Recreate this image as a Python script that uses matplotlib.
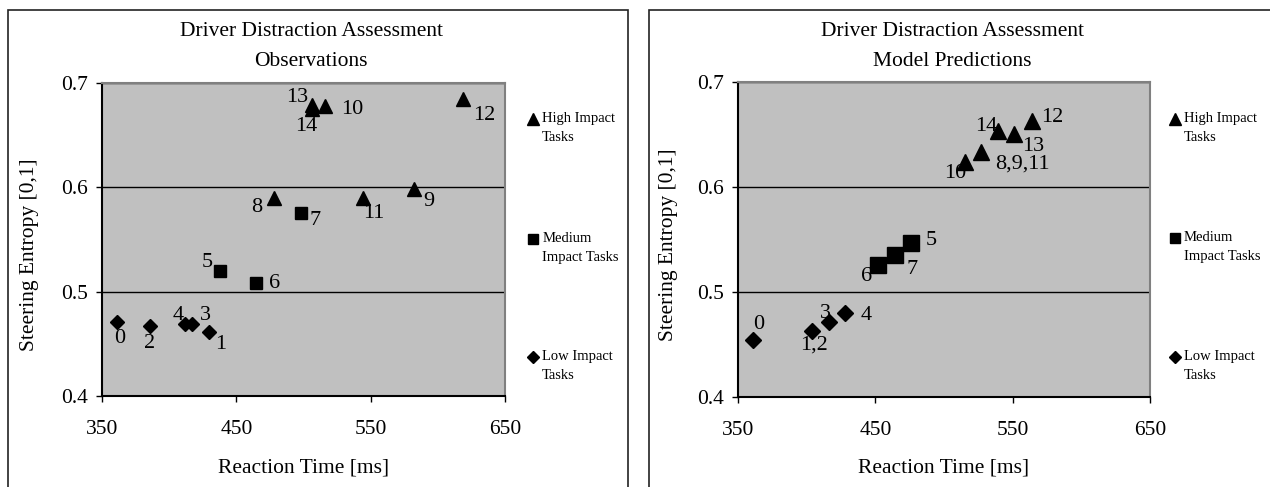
import numpy as np
import matplotlib.pyplot as plt
from matplotlib.patches import Rectangle

plt.rcParams['font.family'] = ['Liberation Serif', 'DejaVu Serif']

# observations (left panel)
obs_low_x = [361, 430, 386, 417, 412]
obs_low_y = [0.471, 0.461, 0.467, 0.469, 0.469]
obs_low_lab = ['0', '1', '2', '3', '4']
obs_med_x = [438, 465, 498]
obs_med_y = [0.520, 0.508, 0.575]
obs_med_lab = ['5', '6', '7']
obs_high_x = [478, 582, 516, 544, 619, 506, 506]
obs_high_y = [0.590, 0.598, 0.678, 0.590, 0.685, 0.679, 0.675]
obs_high_lab = ['8', '9', '10', '11', '12', '13', '14']

# model predictions (right panel)
mod_low_x = [361, 404, 416, 428]
mod_low_y = [0.454, 0.463, 0.471, 0.480]
mod_low_lab = ['0', '1,2', '3', '4']
mod_med_x = [476, 452, 464]
mod_med_y = [0.547, 0.526, 0.535]
mod_med_lab = ['5', '6', '7']
mod_high_x = [527, 515, 564, 551, 539]
mod_high_y = [0.633, 0.624, 0.663, 0.650, 0.653]
mod_high_lab = ['8,9,11', '10', '12', '13', '14']

legend_labels = [['High Impact', 'Tasks'], ['Medium', 'Impact Tasks'], ['Low Impact', 'Tasks']]

# label offsets in pixels
obs_off = {'0': (3, -17), '1': (11, -12), '2': (-1, -17), '3': (13, 9), '4': (-7, 9),
           '5': (-13, 8), '6': (18, 0), '7': (14, -7),
           '8': (-17, -10), '9': (15, -12), '10': (27, -4), '11': (11, -16),
           '12': (21, -17), '13': (-14, 7), '14': (-5, -17)}
mod_off = {'0': (6, 16), '1,2': (2, -14), '3': (-3, 9), '4': (21, -3),
           '5': (20, 2), '6': (-12, -12), '7': (18, -14),
           '8,9,11': (41, -12), '10': (-9, -12), '12': (20, 3), '13': (19, -12), '14': (-11, 5)}

fig = plt.figure(figsize=(12.7, 4.87), dpi=100)

# frames around each chart
fig.add_artist(Rectangle((8 / 1270, -0.1), 620 / 1270, 1.1 - 10 / 487, transform=fig.transFigure,
                         fill=False, edgecolor='#222222', linewidth=1.2))
fig.add_artist(Rectangle((649 / 1270, -0.1), 0.6, 1.1 - 10 / 487, transform=fig.transFigure,
                         fill=False, edgecolor='#222222', linewidth=1.2))


def draw_panel(rect, groups, offsets, subtitle, title_x, ylab_pos, leg):
    ax = fig.add_axes(rect)
    ax.set_facecolor('#c0c0c0')
    for spine in ax.spines.values():
        spine.set_color('#808080')
        spine.set_linewidth(1.5)
    ax.spines['left'].set_color('black')
    ax.spines['bottom'].set_color('black')
    ax.set_xlim(350, 650)
    ax.set_ylim(0.4, 0.7)
    ax.set_xticks([350, 450, 550, 650])
    ax.set_yticks([0.4, 0.5, 0.6, 0.7])
    ax.set_yticklabels(['0.4', '0.5', '0.6', '0.7'])
    ax.tick_params(labelsize=15.5, length=4, width=1, direction='out')
    ax.tick_params(axis='x', pad=13)
    ax.tick_params(axis='y', pad=6)
    ax.yaxis.grid(True, color='black', linewidth=1)
    ax.set_axisbelow(True)

    for xs, ys, labs, marker, ms in groups:
        ax.plot(xs, ys, linestyle='none', marker=marker, color='black', markersize=ms)
        for x, y, lab in zip(xs, ys, labs):
            dx, dy = offsets[lab]
            ax.annotate(lab, (x, y), xytext=(dx, dy), textcoords='offset pixels',
                        ha='center', va='center', fontsize=16)

    ax.set_xlabel('Reaction Time [ms]', fontsize=15.5)
    ax.xaxis.set_label_coords(0.5, -62 / (rect[3] * 487))
    ax.set_ylabel('Steering Entropy [0,1]', fontsize=15.5)
    ax.yaxis.set_label_coords(*ylab_pos)
    fig.text(title_x, 1 - 32 / 487, 'Driver Distraction Assessment', ha='center', va='center', fontsize=15.5)
    fig.text(title_x, 1 - 62 / 487, subtitle, ha='center', va='center', fontsize=15.5)

    # legend, outside the plot area
    lx, ys, fs = leg
    for marker, lines, ly in zip(['^', 's', 'D'], legend_labels, ys):
        ax.plot([lx], [ly], marker=marker, color='black',
                markersize={'^': 8, 's': 7.5, 'D': 6}[marker],
                transform=ax.transAxes, clip_on=False)
        for i, line in enumerate(lines):
            ax.annotate(line, (lx, ly), xycoords='axes fraction', xytext=(9, -19 * i),
                        textcoords='offset pixels', ha='left', va='center', fontsize=fs)
    return ax


draw_panel([102 / 1270, 1 - 396 / 487, 403 / 1270, 313 / 487],
           [(obs_high_x, obs_high_y, obs_high_lab, '^', 10.5),
            (obs_med_x, obs_med_y, obs_med_lab, 's', 9),
            (obs_low_x, obs_low_y, obs_low_lab, 'D', 7)],
           obs_off, 'Observations', 311 / 1270, (-0.157, 0.45),
           (1.07, [0.885, 0.502, 0.125], 10.5))

draw_panel([738 / 1270, 1 - 397 / 487, 412 / 1270, 315 / 487],
           [(mod_high_x, mod_high_y, mod_high_lab, '^', 11),
            (mod_med_x, mod_med_y, mod_med_lab, 's', 11),
            (mod_low_x, mod_low_y, mod_low_lab, 'D', 8.5)],
           mod_off, 'Model Predictions', 952 / 1270, (-0.146, 0.483),
           (1.06, [0.883, 0.505, 0.127], 10.5))

fig.savefig('out.png', dpi=100)
